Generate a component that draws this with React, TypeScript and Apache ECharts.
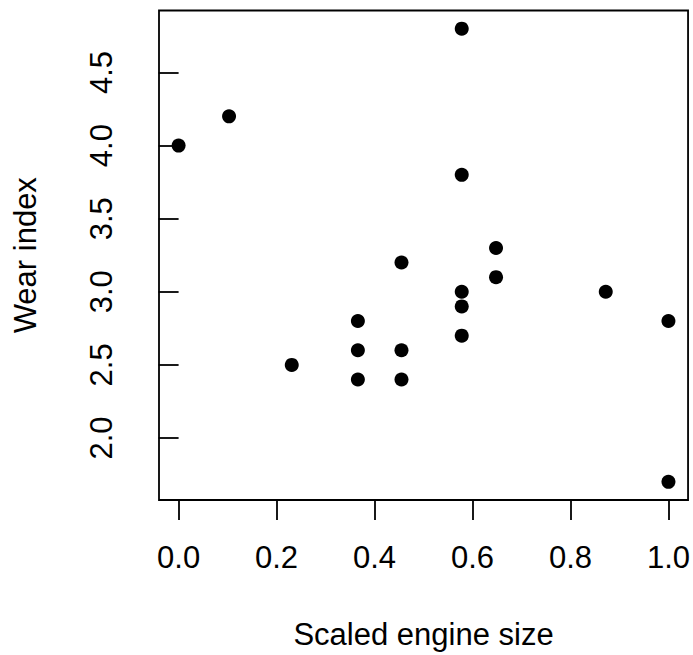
import React, { useEffect, useRef } from "react";
import * as echarts from "echarts";

const engineSize = [0, 0.103, 0.231, 0.366, 0.366, 0.366, 0.455, 0.455, 0.455, 0.578, 0.578, 0.578, 0.578, 0.578, 0.648, 0.648, 0.872, 1.0, 1.0];
const wearIndex = [4.0, 4.2, 2.5, 2.8, 2.6, 2.4, 3.2, 2.6, 2.4, 4.8, 3.8, 3.0, 2.9, 2.7, 3.3, 3.1, 3.0, 2.8, 1.7];
const xTicks = [0, 0.2, 0.4, 0.6, 0.8, 1.0];
const yTicks = [2.0, 2.5, 3.0, 3.5, 4.0, 4.5];

const FONT = "'Liberation Sans', Arial, Helvetica, sans-serif";

export default function App() {
  const ref = useRef<HTMLDivElement>(null);
  useEffect(() => {
    if (!ref.current) return;
    const chart = echarts.init(ref.current, undefined, { renderer: "svg" });
    const points = engineSize.map((x, i) => [x, wearIndex[i]]);
    chart.setOption({
      animation: false,
      backgroundColor: "#ffffff",
      grid: {
        left: 159,
        right: 4,
        top: 10.5,
        bottom: 153,
        show: true,
        borderColor: "#000",
        borderWidth: 1.8,
        backgroundColor: "transparent",
      },
      xAxis: {
        type: "value",
        min: -0.04,
        max: 1.04,
        name: "Scaled engine size",
        nameLocation: "middle",
        nameGap: 119,
        nameTextStyle: { fontSize: 31, fontFamily: FONT, color: "#000" },
        splitLine: { show: false },
        axisLine: { show: false },
        axisTick: {
          show: true,
          inside: false,
          length: 20,
          customValues: xTicks,
          lineStyle: { color: "#000", width: 1.8 },
        },
        axisLabel: {
          show: true,
          customValues: xTicks,
          margin: 42,
          fontSize: 31,
          fontFamily: FONT,
          color: "#000",
          formatter: (v: number) => v.toFixed(1),
        },
      },
      yAxis: {
        type: "value",
        min: 1.576,
        max: 4.924,
        name: "Wear index",
        nameLocation: "middle",
        nameGap: 118,
        nameTextStyle: { fontSize: 31, fontFamily: FONT, color: "#000" },
        splitLine: { show: false },
        axisLine: { show: false },
        axisTick: {
          show: true,
          inside: false,
          length: 20,
          customValues: yTicks,
          lineStyle: { color: "#000", width: 1.8 },
        },
        axisLabel: {
          show: true,
          customValues: yTicks,
          rotate: 90,
          margin: 42,
          fontSize: 31,
          fontFamily: FONT,
          color: "#000",
          formatter: (v: number) => v.toFixed(1),
        },
      },
      series: [
        {
          type: "scatter",
          data: points,
          symbol: "circle",
          symbolSize: 14,
          itemStyle: { color: "#000", opacity: 1 },
        },
      ],
    });
    return () => chart.dispose();
  }, []);
  return (
    <div
      ref={ref}
      style={{ position: "fixed", left: 0, top: 0, width: 693, height: 655, background: "#fff" }}
    />
  );
}
